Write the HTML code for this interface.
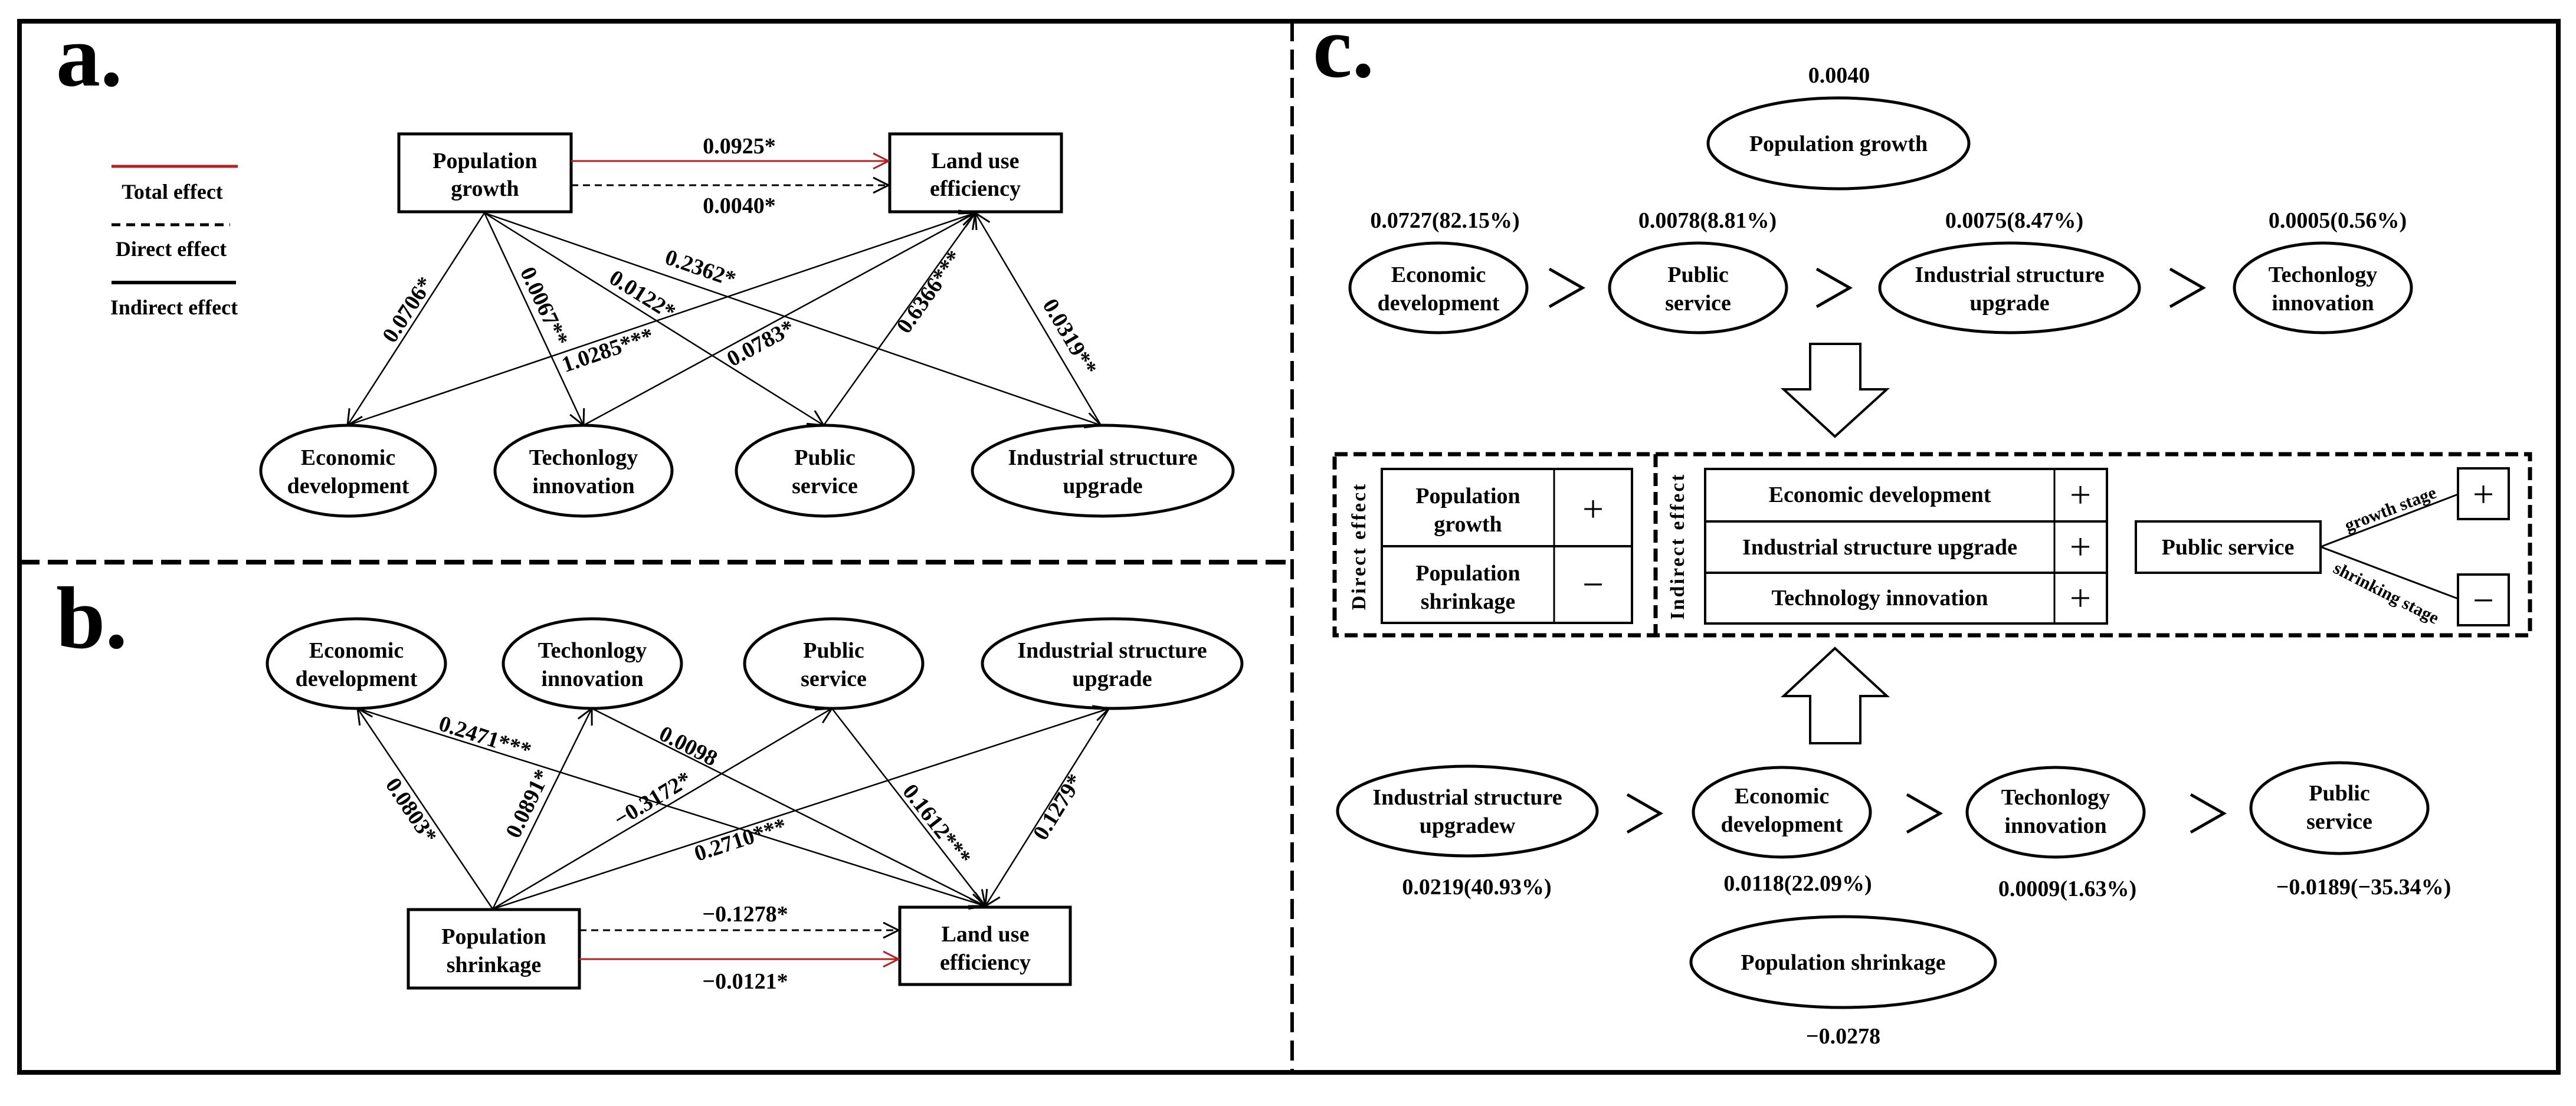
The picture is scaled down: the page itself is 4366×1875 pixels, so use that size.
<!DOCTYPE html>
<html><head><meta charset="utf-8"><style>
html,body{margin:0;padding:0;background:#fff;}
svg{display:block;}
text{font-family:"Liberation Serif",serif;font-weight:bold;fill:#000;}
</style></head><body>
<svg width="4366" height="1875" viewBox="0 0 4366 1875" xmlns="http://www.w3.org/2000/svg">
<defs>
<marker id="ah" markerUnits="userSpaceOnUse" markerWidth="40" markerHeight="40" refX="28" refY="15" orient="auto">
<path d="M2,2 L28,15 L2,28" fill="none" stroke="#000" stroke-width="3"/>
</marker>
<marker id="ahr" markerUnits="userSpaceOnUse" markerWidth="40" markerHeight="40" refX="28" refY="15" orient="auto">
<path d="M2,2 L28,15 L2,28" fill="none" stroke="#b22222" stroke-width="3"/>
</marker>
</defs>
<rect x="0" y="0" width="4366" height="1875" fill="#fff"/>
<rect x="33" y="36" width="4303" height="1782" fill="none" stroke="#000" stroke-width="8"/>
<line x1="2190" y1="36" x2="2190" y2="1818" stroke="#000" stroke-width="6" stroke-dasharray="34,14"/>
<line x1="33" y1="953" x2="2190" y2="953" stroke="#000" stroke-width="8" stroke-dasharray="34,14"/>

<!-- PANEL A -->
<text x="95" y="145" font-size="150">a.</text>
<line x1="189" y1="282" x2="403" y2="282" stroke="#b22222" stroke-width="5"/>
<text x="292" y="337" font-size="36" text-anchor="middle">Total effect</text>
<line x1="189" y1="381" x2="390" y2="381" stroke="#000" stroke-width="5" stroke-dasharray="15,10"/>
<text x="290" y="434" font-size="36" text-anchor="middle">Direct effect</text>
<line x1="189" y1="479" x2="400" y2="479" stroke="#000" stroke-width="6"/>
<text x="295" y="533" font-size="36" text-anchor="middle">Indirect effect</text>

<rect x="676" y="227" width="292" height="132" fill="none" stroke="#000" stroke-width="5"/>
<text x="822" y="285" font-size="38" text-anchor="middle">Population</text>
<text x="822" y="332" font-size="38" text-anchor="middle">growth</text>
<rect x="1508" y="227" width="291" height="132" fill="none" stroke="#000" stroke-width="5"/>
<text x="1653" y="285" font-size="38" text-anchor="middle">Land use</text>
<text x="1653" y="332" font-size="38" text-anchor="middle">efficiency</text>
<line x1="968" y1="273" x2="1506" y2="273" stroke="#b22222" stroke-width="3" marker-end="url(#ahr)"/>
<line x1="968" y1="314" x2="1506" y2="314" stroke="#000" stroke-width="3" stroke-dasharray="12,8" marker-end="url(#ah)"/>
<text x="1253" y="260" font-size="38" text-anchor="middle">0.0925*</text>
<text x="1253" y="361" font-size="38" text-anchor="middle">0.0040*</text>

<g fill="none" stroke="#000" stroke-width="5">
<ellipse cx="590" cy="798" rx="148" ry="77"/>
<ellipse cx="989" cy="798" rx="150" ry="77"/>
<ellipse cx="1398" cy="798" rx="150" ry="77"/>
<ellipse cx="1869" cy="798" rx="221" ry="77"/>
</g>
<g font-size="38" text-anchor="middle">
<text x="590" y="788">Economic</text><text x="590" y="836">development</text>
<text x="989" y="788">Techonlogy</text><text x="989" y="836">innovation</text>
<text x="1398" y="788">Public</text><text x="1398" y="836">service</text>
<text x="1869" y="788">Industrial structure</text><text x="1869" y="836">upgrade</text>
</g>
<g stroke="#000" stroke-width="2.5" fill="none">
<line x1="821" y1="361" x2="589" y2="721" marker-end="url(#ah)"/>
<line x1="821" y1="361" x2="989" y2="721" marker-end="url(#ah)"/>
<line x1="821" y1="361" x2="1396" y2="721" marker-end="url(#ah)"/>
<line x1="821" y1="361" x2="1866" y2="721" marker-end="url(#ah)"/>
<line x1="589" y1="721" x2="1653" y2="361" marker-end="url(#ah)"/>
<line x1="989" y1="721" x2="1653" y2="361" marker-end="url(#ah)"/>
<line x1="1396" y1="721" x2="1653" y2="361" marker-end="url(#ah)"/>
<line x1="1866" y1="721" x2="1653" y2="361" marker-end="url(#ah)"/>
</g>
<g font-size="38" text-anchor="middle" dominant-baseline="middle">
<text transform="translate(694,527) rotate(-57)">0.0706*</text>
<text transform="translate(919,521) rotate(65)">0.0067**</text>
<text transform="translate(1087,503) rotate(32)">0.0122*</text>
<text transform="translate(1186,458) rotate(19)">0.2362*</text>
<text transform="translate(1031,597) rotate(-19)">1.0285***</text>
<text transform="translate(1291,585) rotate(-28.5)">0.0783*</text>
<text transform="translate(1578,497) rotate(-54.5)">0.6366***</text>
<text transform="translate(1810,573) rotate(59.4)">0.0319**</text>
</g>

<!-- PANEL B -->
<text x="95" y="1098" font-size="150">b.</text>
<g fill="none" stroke="#000" stroke-width="5">
<ellipse cx="604" cy="1125" rx="151" ry="76"/>
<ellipse cx="1004" cy="1125" rx="151" ry="76"/>
<ellipse cx="1413" cy="1125" rx="151" ry="76"/>
<ellipse cx="1885" cy="1125" rx="220" ry="76"/>
</g>
<g font-size="38" text-anchor="middle">
<text x="604" y="1115">Economic</text><text x="604" y="1163">development</text>
<text x="1004" y="1115">Techonlogy</text><text x="1004" y="1163">innovation</text>
<text x="1413" y="1115">Public</text><text x="1413" y="1163">service</text>
<text x="1885" y="1115">Industrial structure</text><text x="1885" y="1163">upgrade</text>
</g>
<rect x="692" y="1542" width="290" height="133" fill="none" stroke="#000" stroke-width="5"/>
<text x="837" y="1600" font-size="38" text-anchor="middle">Population</text>
<text x="837" y="1648" font-size="38" text-anchor="middle">shrinkage</text>
<rect x="1525" y="1538" width="289" height="131" fill="none" stroke="#000" stroke-width="5"/>
<text x="1670" y="1596" font-size="38" text-anchor="middle">Land use</text>
<text x="1670" y="1644" font-size="38" text-anchor="middle">efficiency</text>
<line x1="982" y1="1577" x2="1523" y2="1577" stroke="#000" stroke-width="3" stroke-dasharray="12,8" marker-end="url(#ah)"/>
<line x1="982" y1="1626" x2="1523" y2="1626" stroke="#b22222" stroke-width="3" marker-end="url(#ahr)"/>
<text x="1263" y="1562" font-size="38" text-anchor="middle">−0.1278*</text>
<text x="1263" y="1676" font-size="38" text-anchor="middle">−0.0121*</text>
<g stroke="#000" stroke-width="2.5" fill="none">
<line x1="835" y1="1541" x2="606" y2="1201" marker-end="url(#ah)"/>
<line x1="835" y1="1541" x2="1003" y2="1201" marker-end="url(#ah)"/>
<line x1="835" y1="1541" x2="1410" y2="1201" marker-end="url(#ah)"/>
<line x1="835" y1="1541" x2="1880" y2="1201" marker-end="url(#ah)"/>
<line x1="606" y1="1201" x2="1670" y2="1536" marker-end="url(#ah)"/>
<line x1="1003" y1="1201" x2="1670" y2="1536" marker-end="url(#ah)"/>
<line x1="1410" y1="1201" x2="1670" y2="1536" marker-end="url(#ah)"/>
<line x1="1880" y1="1201" x2="1670" y2="1536" marker-end="url(#ah)"/>
</g>
<g font-size="38" text-anchor="middle" dominant-baseline="middle">
<text transform="translate(694,1376) rotate(56)">0.0803*</text>
<text transform="translate(898,1364) rotate(-64)">0.0891*</text>
<text transform="translate(1108,1358) rotate(-31)">−0.3172*</text>
<text transform="translate(1256,1427) rotate(-18)">0.2710***</text>
<text transform="translate(821,1253) rotate(17.5)">0.2471***</text>
<text transform="translate(1165,1268) rotate(27)">0.0098</text>
<text transform="translate(1585,1400) rotate(52)">0.1612***</text>
<text transform="translate(1796,1370) rotate(-58)">0.1279*</text>
</g>

<!-- PANEL C -->
<text x="2225" y="130" font-size="150">c.</text>
<text x="3117" y="140" font-size="38" text-anchor="middle">0.0040</text>
<ellipse cx="3116" cy="243" rx="221" ry="77" fill="none" stroke="#000" stroke-width="5"/>
<text x="3116" y="256" font-size="38" text-anchor="middle">Population growth</text>
<g font-size="38" text-anchor="middle">
<text x="2449" y="386">0.0727(82.15%)</text>
<text x="2894" y="386">0.0078(8.81%)</text>
<text x="3414" y="386">0.0075(8.47%)</text>
<text x="3962" y="386">0.0005(0.56%)</text>
</g>
<g fill="none" stroke="#000" stroke-width="5">
<ellipse cx="2438" cy="488" rx="150" ry="76"/>
<ellipse cx="2878" cy="488" rx="150" ry="76"/>
<ellipse cx="3406" cy="488" rx="220" ry="76"/>
<ellipse cx="3937" cy="488" rx="150" ry="76"/>
</g>
<g font-size="38" text-anchor="middle">
<text x="2438" y="478">Economic</text><text x="2438" y="526">development</text>
<text x="2878" y="478">Public</text><text x="2878" y="526">service</text>
<text x="3406" y="478">Industrial structure</text><text x="3406" y="526">upgrade</text>
<text x="3937" y="478">Techonlogy</text><text x="3937" y="526">innovation</text>
</g>
<g fill="none" stroke="#000" stroke-width="5">
<polyline points="2626,456 2682,488 2626,520"/>
<polyline points="3079,456 3135,488 3079,520"/>
<polyline points="3678,456 3734,488 3678,520"/>
<polyline points="2758,1347 2814,1379 2758,1411"/>
<polyline points="3232,1347 3288,1379 3232,1411"/>
<polyline points="3713,1347 3769,1379 3713,1411"/>
</g>
<polygon points="3068,583 3153,583 3153,660 3198,660 3110,740 3023,660 3068,660" fill="#fff" stroke="#000" stroke-width="4"/>
<polygon points="3110,1099 3198,1180 3153,1180 3153,1260 3068,1260 3068,1180 3023,1180" fill="#fff" stroke="#000" stroke-width="4"/>

<rect x="2262" y="770" width="2026" height="307" fill="none" stroke="#000" stroke-width="7" stroke-dasharray="22,10"/>
<line x1="2806" y1="770" x2="2806" y2="1077" stroke="#000" stroke-width="7" stroke-dasharray="22,10"/>
<text transform="translate(2306,926) rotate(-90)" font-size="34" text-anchor="middle" dominant-baseline="middle" letter-spacing="3">Direct effect</text>
<text transform="translate(2846,926) rotate(-90)" font-size="34" text-anchor="middle" dominant-baseline="middle" letter-spacing="3">Indirect effect</text>
<g fill="none" stroke="#000" stroke-width="4">
<rect x="2342" y="795" width="424" height="261"/>
<line x1="2342" y1="926" x2="2766" y2="926"/>
<line x1="2634" y1="795" x2="2634" y2="1056" stroke-width="3"/>
<rect x="2890" y="795" width="681" height="262"/>
<line x1="2890" y1="884" x2="3571" y2="884"/>
<line x1="2890" y1="971" x2="3571" y2="971"/>
<line x1="3482" y1="795" x2="3482" y2="1057" stroke-width="3"/>
<rect x="3620" y="884" width="313" height="87"/>
<rect x="4166" y="794" width="86" height="86"/>
<rect x="4166" y="974" width="86" height="86"/>
<line x1="3933" y1="927" x2="4166" y2="838" stroke-width="3"/>
<line x1="3933" y1="927" x2="4166" y2="1015" stroke-width="3"/>
</g>
<g font-size="38" text-anchor="middle">
<text x="2488" y="853">Population</text><text x="2488" y="901">growth</text>
<text x="2488" y="984">Population</text><text x="2488" y="1032">shrinkage</text>
<text x="3186" y="851">Economic development</text>
<text x="3186" y="940">Industrial structure upgrade</text>
<text x="3186" y="1026">Technology innovation</text>
<text x="3776" y="940">Public service</text>
</g>
<g font-size="64" text-anchor="middle">
<text x="2700" y="884" style="font-weight:normal">+</text>
<text x="2700" y="1012" style="font-weight:normal">−</text>
<text x="3526" y="860" style="font-weight:normal">+</text>
<text x="3526" y="948" style="font-weight:normal">+</text>
<text x="3526" y="1035" style="font-weight:normal">+</text>
<text x="4209" y="859" style="font-weight:normal">+</text>
<text x="4209" y="1039" style="font-weight:normal">−</text>
</g>
<text transform="translate(4055,872) rotate(-21)" font-size="30" text-anchor="middle">growth stage</text>
<text transform="translate(4040,1014) rotate(27)" font-size="30" text-anchor="middle">shrinking stage</text>

<g fill="none" stroke="#000" stroke-width="5">
<ellipse cx="2487" cy="1375" rx="220" ry="76"/>
<ellipse cx="3020" cy="1377" rx="150" ry="76"/>
<ellipse cx="3484" cy="1377" rx="150" ry="76"/>
<ellipse cx="3965" cy="1370" rx="150" ry="77"/>
<ellipse cx="3124" cy="1631" rx="258" ry="77"/>
</g>
<g font-size="38" text-anchor="middle">
<text x="2487" y="1364">Industrial structure</text><text x="2487" y="1412">upgradew</text>
<text x="3020" y="1362">Economic</text><text x="3020" y="1410">development</text>
<text x="3484" y="1364">Techonlogy</text><text x="3484" y="1412">innovation</text>
<text x="3965" y="1357">Public</text><text x="3965" y="1405">service</text>
<text x="2503" y="1516">0.0219(40.93%)</text>
<text x="3047" y="1510">0.0118(22.09%)</text>
<text x="3504" y="1519">0.0009(1.63%)</text>
<text x="4006" y="1516">−0.0189(−35.34%)</text>
<text x="3124" y="1644">Population shrinkage</text>
<text x="3124" y="1769">−0.0278</text>
</g>
</svg>
</body></html>
